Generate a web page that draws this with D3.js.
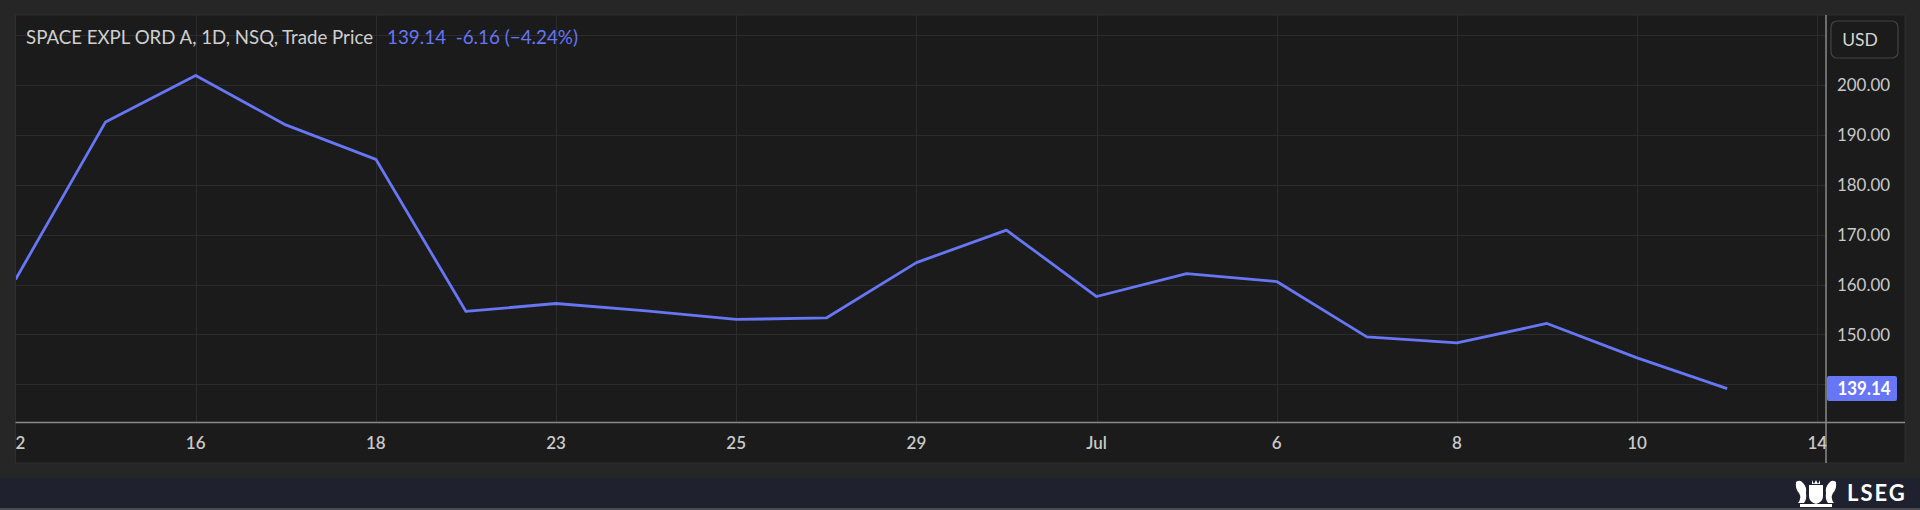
<!DOCTYPE html>
<html>
<head>
<meta charset="utf-8">
<script src="https://cdn.jsdelivr.net/npm/d3@7"></script>
<style>
  html, body { margin: 0; padding: 0; background: #262626; }
  svg { display: block; }
</style>
</head>
<body>
<svg id="chart" width="1920" height="510"></svg>
<script>
// ---- data ----
const categories = ["Jun 12","Jun 15","Jun 16","Jun 17","Jun 18","Jun 22","Jun 23","Jun 24","Jun 25","Jun 26",
                    "Jun 29","Jun 30","Jul 1","Jul 2","Jul 6","Jul 7","Jul 8","Jul 9","Jul 10","Jul 13","Jul 14"];
const tickLabels = ["12","","16","","18","","23","","25","","29","","Jul","","6","","8","","10","","14"];
const prices = [161.0, 192.6, 201.9, 192.0, 185.1, 154.6, 156.2, 154.7, 153.0, 153.3,
                164.4, 170.9, 157.6, 162.2, 160.6, 149.5, 148.3, 152.2, 145.30, 139.14];
const yTicks = [140, 150, 160, 170, 180, 190, 200, 210];
const yLabelTicks = [150, 160, 170, 180, 190, 200];
const titleText = "SPACE EXPL ORD A, 1D, NSQ, Trade Price";
const quoteText = "139.14\u00A0\u00A0-6.16 (\u22124.24%)";
const lastLabel = "139.14";
const currency = "USD";

// ---- layout ----
const svg = d3.select("#chart");
const panel = { x0: 15.5, y0: 15, x1: 1905, y1: 463 };
const plotRight = 1826, axisY = 422.5;
const FONT = "Lato, 'Open Sans', sans-serif";
const lineColor = "#6676f5";

const x = d3.scalePoint().domain(categories).range([15.5, 1817.3]);
const y = d3.scaleLinear().domain([140, 200]).range([384.3, 85]);

// panel background
svg.append("rect").attr("x", panel.x0).attr("y", panel.y0)
  .attr("width", panel.x1 - panel.x0).attr("height", panel.y1 - panel.y0)
  .attr("fill", "#1b1b1b").attr("stroke", "#2e2e2e").attr("stroke-width", 1);

// footer
svg.append("rect").attr("x", 0).attr("y", 478).attr("width", 1920).attr("height", 32).attr("fill", "#1f222e");
svg.append("rect").attr("x", 0).attr("y", 508).attr("width", 1920).attr("height", 2).attr("fill", "#4a4c52");

const defs = svg.append("defs");
defs.append("clipPath").attr("id", "plotClip").append("rect")
  .attr("x", panel.x0 + 0.5).attr("y", panel.y0).attr("width", plotRight - panel.x0 - 0.5).attr("height", axisY - panel.y0);
defs.append("clipPath").attr("id", "xClip").append("rect")
  .attr("x", panel.x0 + 0.5).attr("y", axisY).attr("width", plotRight - panel.x0).attr("height", panel.y1 - axisY);

// grid
const grid = svg.append("g").attr("clip-path", "url(#plotClip)");
grid.selectAll("line.h").data(yTicks).join("line")
  .attr("x1", panel.x0).attr("x2", plotRight)
  .attr("y1", d => Math.round(y(d)) + 0.5).attr("y2", d => Math.round(y(d)) + 0.5)
  .attr("stroke", "#2c2c2c").attr("stroke-width", 1);
grid.selectAll("line.v").data(categories.filter((c, i) => tickLabels[i] !== "")).join("line")
  .attr("x1", d => Math.round(x(d)) + 0.5).attr("x2", d => Math.round(x(d)) + 0.5)
  .attr("y1", panel.y0).attr("y2", axisY)
  .attr("stroke", "#2c2c2c").attr("stroke-width", 1);

// axes lines
svg.append("line").attr("x1", panel.x0).attr("x2", panel.x1).attr("y1", axisY).attr("y2", axisY)
  .attr("stroke", "#8a8a8a").attr("stroke-width", 1.5);
svg.append("line").attr("x1", plotRight).attr("x2", plotRight).attr("y1", panel.y0).attr("y2", panel.y1)
  .attr("stroke", "#8a8a8a").attr("stroke-width", 1.5);

// price line
const line = d3.line().x((d, i) => x(categories[i])).y(d => y(d));
svg.append("path").datum(prices).attr("clip-path", "url(#plotClip)")
  .attr("d", line).attr("fill", "none").attr("stroke", lineColor)
  .attr("stroke-width", 2.8).attr("stroke-linejoin", "round");

// x tick labels
svg.append("g").attr("clip-path", "url(#xClip)")
  .selectAll("text").data(categories.map((c, i) => ({ c, t: tickLabels[i] })).filter(d => d.t !== ""))
  .join("text")
  .attr("x", d => x(d.c)).attr("y", 443.5).attr("dy", "0.35em")
  .attr("text-anchor", "middle").attr("fill", "#c9c9c9")
  .attr("font-family", FONT).attr("font-size", 17).attr("font-weight", 600)
  .text(d => d.t);

// y tick labels
svg.append("g").selectAll("text").data(yLabelTicks).join("text")
  .attr("x", 1863.5).attr("y", d => y(d)).attr("dy", "0.35em")
  .attr("text-anchor", "middle").attr("fill", "#c9c9c9")
  .attr("font-family", FONT).attr("font-size", 17.5)
  .attr("textLength", 53).attr("lengthAdjust", "spacingAndGlyphs")
  .text(d => d3.format(".2f")(d));

// last price badge
const lastY = y(prices[prices.length - 1]);
svg.append("rect").attr("x", 1827).attr("y", lastY - 12.5).attr("width", 70).attr("height", 25)
  .attr("rx", 2).attr("fill", "#6676f5");
svg.append("text").attr("x", 1864).attr("y", lastY).attr("dy", "0.35em")
  .attr("text-anchor", "middle").attr("fill", "#ffffff")
  .attr("font-family", FONT).attr("font-size", 18).attr("font-weight", 700)
  .attr("textLength", 53).attr("lengthAdjust", "spacingAndGlyphs")
  .text(lastLabel);

// currency button
svg.append("rect").attr("x", 1831).attr("y", 21).attr("width", 67).attr("height", 37)
  .attr("rx", 6).attr("fill", "#1b1b1b").attr("stroke", "#444444").attr("stroke-width", 1.2);
svg.append("text").attr("x", 1860).attr("y", 39.5).attr("dy", "0.35em")
  .attr("text-anchor", "middle").attr("fill", "#d4d4d4")
  .attr("font-family", FONT).attr("font-size", 17.5).text(currency);

// title (condensed to the reference spans)
svg.append("text").attr("x", 26).attr("y", 38).attr("dy", "0.35em")
  .attr("fill", "#cfcfcf").attr("font-family", FONT).attr("font-size", 18.5)
  .attr("textLength", 347).attr("lengthAdjust", "spacingAndGlyphs").text(titleText);
svg.append("text").attr("x", 387).attr("y", 38).attr("dy", "0.35em")
  .attr("fill", "#6676f5").attr("font-family", FONT).attr("font-size", 18.5)
  .attr("textLength", 191).attr("lengthAdjust", "spacingAndGlyphs").text(quoteText);

// LSEG logo
const logo = svg.append("g").attr("fill", "#ffffff");
logo.append("text").attr("x", 1847).attr("y", 493.5).attr("dy", "0.35em")
  .attr("font-family", FONT).attr("font-size", 22).attr("font-weight", 700)
  .attr("letter-spacing", 2).text("LSEG");
const crest = logo.append("g").attr("transform", "translate(1816,493)");
crest.append("path").attr("d", "M-7,-8 L7,-8 L7,3 Q7,9 0,11 Q-7,9 -7,3 Z");
crest.append("path").attr("d", "M-20,-11 Q-16,-14 -13,-10 Q-9,-6 -10,0 Q-9,6 -12,10 L-18,10 Q-14,5 -17,0 Q-21,-4 -20,-11 Z");
crest.append("path").attr("d", "M20,-11 Q16,-14 13,-10 Q9,-6 10,0 Q9,6 12,10 L18,10 Q14,5 17,0 Q21,-4 20,-11 Z");
crest.append("rect").attr("x", -16).attr("y", 11).attr("width", 32).attr("height", 3);
crest.append("path").attr("d", "M-4,-13 L-2,-9 L0,-13 L2,-9 L4,-13 L4,-9 L-4,-9 Z");
</script>
</body>
</html>
